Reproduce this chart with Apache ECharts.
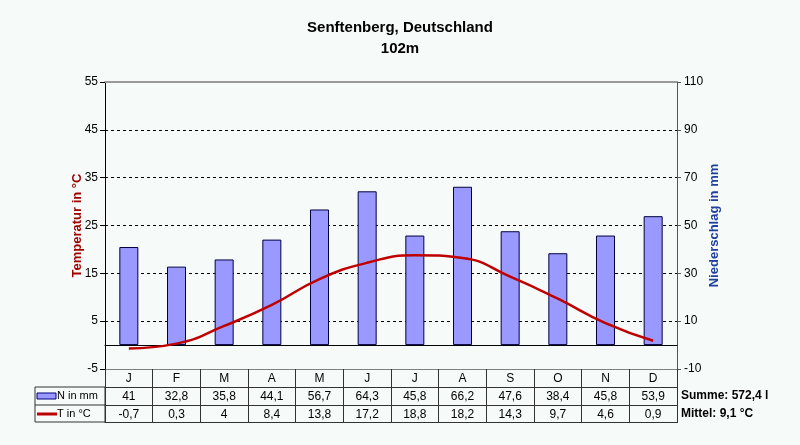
<!DOCTYPE html>
<html><head><meta charset="utf-8">
<script src="https://cdn.jsdelivr.net/npm/echarts@6/dist/echarts.min.js"></script>
<style>html,body{margin:0;padding:0;background:#f6fbf9}#c{width:800px;height:445px}</style>
</head><body><div id="c"></div>
<script>
const months = ['J','F','M','A','M','J','J','A','S','O','N','D'];
const precip = [41,32.8,35.8,44.1,56.7,64.3,45.8,66.2,47.6,38.4,45.8,53.9];
const temp = [-0.7,0.3,4,8.4,13.8,17.2,18.8,18.2,14.3,9.7,4.6,0.9];
const tempTicks = [-5,5,15,25,35,45,55];
const precipTicks = [-10,10,30,50,70,90,110];
const title = 'Senftenberg, Deutschland';
const subtitle = '102m';
const sumText = 'Summe: 572,4 l';
const meanText = 'Mittel: 9,1 °C';

const fmt = v => String(v).replace('.', ',');
const FONT = 'Liberation Sans, Arial, sans-serif';
const GL = 105, GR = 123, GT = 82, GH = 287;

const chart = echarts.init(document.getElementById('c'));
const rowAxis = (data, offset, lineColor) => ({
  type: 'category', data: data, position: 'bottom', offset: offset,
  axisLine: { show: true, onZero: false, lineStyle: { color: lineColor, width: 1 } },
  axisTick: { show: true, interval: 0, length: 18, lineStyle: { color: '#333' } },
  axisLabel: { show: true, interval: 0, margin: 4, fontSize: 12, color: '#000', fontFamily: FONT },
  splitLine: { show: false }
});
chart.setOption({
  backgroundColor: '#f6fbf9',
  animation: false,
  title: {
    text: title + '\n' + subtitle, left: 'center', top: 12,
    textStyle: { fontSize: 15, fontWeight: 'bold', color: '#000', fontFamily: FONT, lineHeight: 21 }
  },
  grid: { left: GL, right: GR, top: GT, height: GH },
  xAxis: [
    { type: 'category', data: months, position: 'bottom',
      axisLine: { show: true, onZero: true, lineStyle: { color: '#000', width: 1 } },
      axisTick: { show: false }, axisLabel: { show: false }, splitLine: { show: false } },
    { type: 'category', data: months, position: 'top',
      axisLine: { show: true, onZero: false, lineStyle: { color: '#9a9a9a', width: 2 } },
      axisTick: { show: false }, axisLabel: { show: false }, splitLine: { show: false } },
    rowAxis(months, 0, '#808080'),
    rowAxis(precip.map(fmt), 18, '#333'),
    rowAxis(temp.map(fmt), 36, '#333'),
    { type: 'category', data: months, position: 'bottom', offset: 53,
      axisLine: { show: true, onZero: false, lineStyle: { color: '#333', width: 1 } },
      axisTick: { show: false }, axisLabel: { show: false }, splitLine: { show: false } }
  ],
  yAxis: [
    { type: 'value', min: tempTicks[0], max: tempTicks[tempTicks.length-1], interval: tempTicks[1]-tempTicks[0],
      name: 'Temperatur in °C', nameLocation: 'middle', nameGap: 21, nameMoveOverlap: false,
      nameTextStyle: { color: '#a00000', fontSize: 13, fontWeight: 'bold', fontFamily: FONT },
      axisLine: { show: true, lineStyle: { color: '#000' } },
      axisTick: { show: true, length: 5, lineStyle: { color: '#000' } },
      axisLabel: { color: '#000', fontSize: 12, margin: 7, fontFamily: FONT },
      splitLine: { show: true, showMinLine: false, showMaxLine: false, lineStyle: { color: '#000', type: [3, 3], width: 1 } } },
    { type: 'value', min: precipTicks[0], max: precipTicks[precipTicks.length-1], interval: precipTicks[1]-precipTicks[0],
      position: 'right',
      name: 'Niederschlag in mm', nameLocation: 'middle', nameGap: 31, nameMoveOverlap: false,
      nameTextStyle: { color: '#2040a0', fontSize: 13, fontWeight: 'bold', fontFamily: FONT },
      axisLine: { show: true, lineStyle: { color: '#555' } },
      axisTick: { show: true, length: 4, lineStyle: { color: '#555' } },
      axisLabel: { color: '#000', fontSize: 12, margin: 7, fontFamily: FONT },
      splitLine: { show: false } }
  ],
  series: [
    { type: 'bar', xAxisIndex: 0, yAxisIndex: 1, data: precip, barWidth: 19,
      itemStyle: { color: '#9999ff', borderColor: '#000040', borderWidth: 1 } },
    { type: 'line', xAxisIndex: 0, yAxisIndex: 0, data: temp, smooth: 0.5, showSymbol: false,
      lineStyle: { color: '#c00000', width: 2.5 }, z: 5 }
  ],
  graphic: [
    { type: 'rect', shape: { x: 35, y: 387, width: 70, height: 35 }, style: { fill: 'none', stroke: '#333', lineWidth: 1 } },
    { type: 'line', shape: { x1: 35, y1: 405, x2: 105, y2: 405 }, style: { stroke: '#333', lineWidth: 1 } },
    { type: 'rect', shape: { x: 37, y: 393, width: 19, height: 6 }, style: { fill: '#9999ff', stroke: '#000080', lineWidth: 1 } },
    { type: 'line', shape: { x1: 37, y1: 414, x2: 57, y2: 414 }, style: { stroke: '#c00000', lineWidth: 3 } },
    { type: 'text', x: 57, y: 396, style: { text: 'N in mm', font: '11px ' + FONT, fill: '#000', verticalAlign: 'middle' } },
    { type: 'text', x: 57, y: 414, style: { text: 'T in °C', font: '11px ' + FONT, fill: '#000', verticalAlign: 'middle' } },
    { type: 'text', x: 681, y: 396, style: { text: sumText, font: 'bold 12px ' + FONT, fill: '#000', verticalAlign: 'middle' } },
    { type: 'text', x: 681, y: 414, style: { text: meanText, font: 'bold 12px ' + FONT, fill: '#000', verticalAlign: 'middle' } }
  ]
});
</script></body></html>
